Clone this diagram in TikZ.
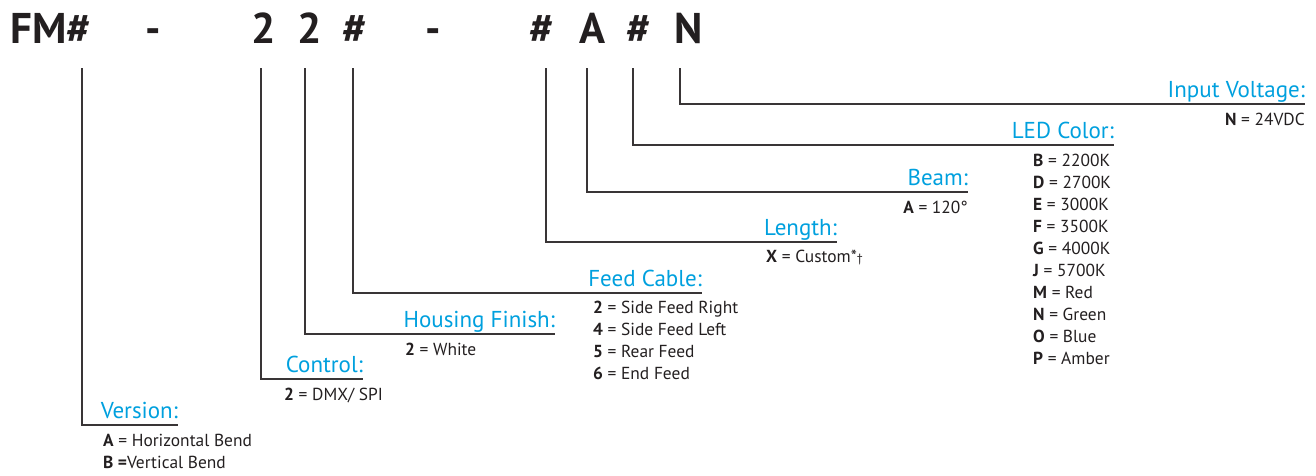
\documentclass[tikz,border=0pt]{standalone}
\usepackage{fontspec}
\setmainfont{PT Sans}
\definecolor{headblue}{RGB}{0,160,222}
\definecolor{ink}{RGB}{35,31,32}

\begin{document}
\begin{tikzpicture}[x=1pt, y=-1pt,
    every node/.style = {inner sep=0pt, text=ink},
    code/.style = {anchor=base, font=\fontsize{43}{43}\selectfont\bfseries},
    head/.style = {anchor=south east, text depth=6pt, text=headblue,
    font=\fontsize{23}{23}\selectfont},
    entry/.style = {anchor=base west, font=\fontsize{17.4}{18}\selectfont},
    lead/.style = {draw=ink!90, line width=1.2pt}]
    \useasboundingbox (0,0) rectangle (1316,475);
    % part number
    \node[code, anchor=base west] (fm) at (10,43) {FM\#};
    \node[code] (dash1) at (153,43) {-};
    \node[code] (ctl) at (264,43) {2};
    \node[code] (fin) at (310,43) {2};
    \node[code] (fee) at (355,43) {\#};
    \node[code] (dash2) at (433,43) {-};
    \node[code] (len) at (542,43) {\#};
    \node[code] (bea) at (592,43) {A};
    \node[code] (col) at (639,43) {\#};
    \node[code] (vol) at (689,43) {N};
    % headings
    \node[head] (h-ver) at (178,425) {Version:};
    \node[head] (h-ctl) at (363,379) {Control:};
    \node[head] (h-fin) at (555,334) {Housing Finish:};
    \node[head] (h-fee) at (702,293) {Feed Cable:};
    \node[head] (h-len) at (837,242) {Length:};
    \node[head] (h-bea) at (968,192) {Beam:};
    \node[head] (h-col) at (1114,145) {LED Color:};
    \node[head] (h-vol) at (1305,104) {Input Voltage:};
    % leaders
    \coordinate (s-ver) at (82,68);
    \coordinate (s-ctl) at (261,68);
    \coordinate (s-fin) at (305,68);
    \coordinate (s-fee) at (353,68);
    \coordinate (s-len) at (546,68);
    \coordinate (s-bea) at (587,68);
    \coordinate (s-col) at (633,68);
    \coordinate (s-vol) at (680,68);
    \draw[lead] (s-ver) |- (h-ver.south east);
    \draw[lead] (s-ctl) |- (h-ctl.south east);
    \draw[lead] (s-fin) |- (h-fin.south east);
    \draw[lead] (s-fee) |- (h-fee.south east);
    \draw[lead] (s-len) |- (h-len.south east);
    \draw[lead] (s-bea) |- (h-bea.south east);
    \draw[lead] (s-col) |- (h-col.south east);
    \draw[lead] (s-vol) |- (h-vol.south east);
    % options
    \node[entry] (e-ver1) at (103,446) {\textbf{A} = Horizontal Bend};
    \node[entry] (e-ver2) at (103,468) {\textbf{B =}Vertical Bend};
    \node[entry] (e-ctl) at (284,400) {\textbf{2} = DMX/ SPI};
    \node[entry] (e-fin) at (405,355) {\textbf{2} = White};
    \foreach \k/\v [count=\i] in {2/Side Feed Right, 4/Side Feed Left,
        5/Rear Feed, 6/End Feed}
      \node[entry] (e-fee\i) at (593,{291+22*\i}) {\textbf{\k} = \v};
    \node[entry] (e-len) at (766,262) {\textbf{X} = Custom*{\fontsize{12}{12}\selectfont †}};
    \node[entry, anchor=base east] (e-bea) at (968,213) {\textbf{A} = 120°};
    \foreach \k/\v [count=\i] in {B/2200K, D/2700K, E/3000K, F/3500K,
        G/4000K, J/5700K, M/Red, N/Green, O/Blue, P/Amber}
      \node[entry] (e-col\i) at (1033,{143.9+22.1*\i}) {\textbf{\k} = \v};
    \node[entry, anchor=base east] (e-vol) at (1305,125) {\textbf{N} = 24VDC};
  \end{tikzpicture}
\end{document}
